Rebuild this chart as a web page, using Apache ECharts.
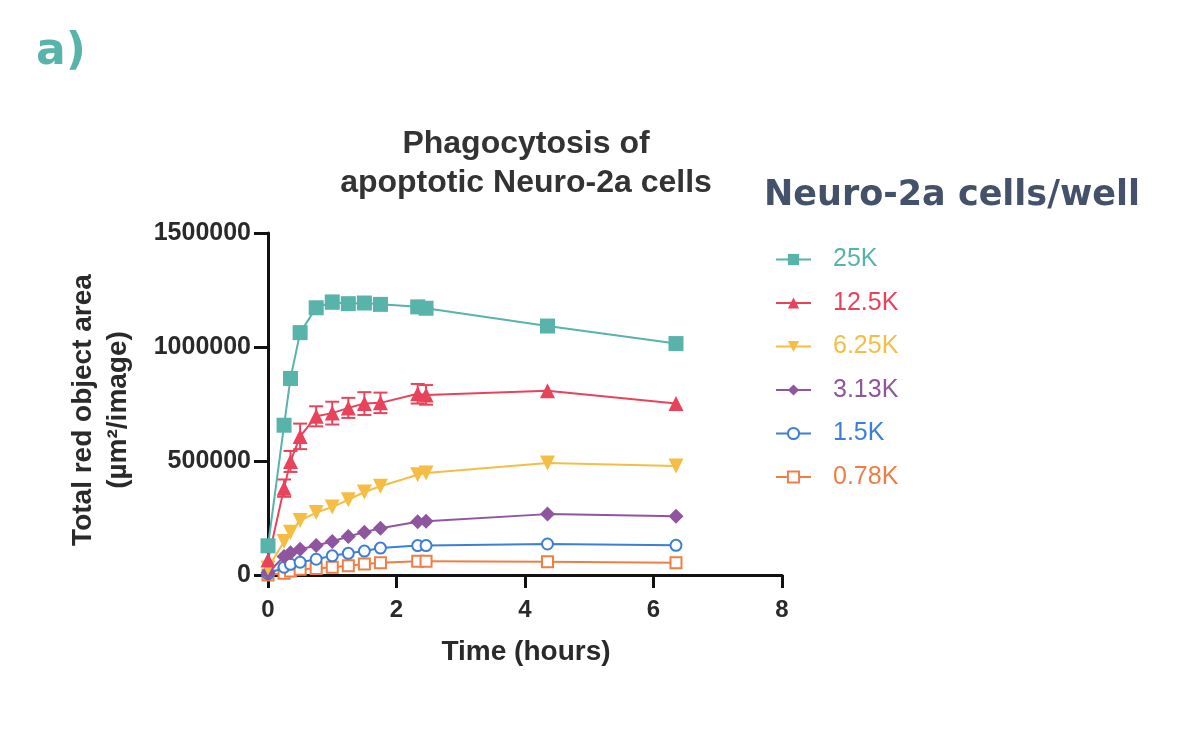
<!DOCTYPE html>
<html>
<head>
<meta charset="utf-8">
<script src="https://cdn.jsdelivr.net/npm/echarts@6/dist/echarts.min.js"></script>
<style>html,body{margin:0;padding:0;background:#fff}#c{width:1200px;height:736px}</style>
</head>
<body>
<div id="c"></div>
<script>
// Time points (hours)
const times = [0, 0.25, 0.35, 0.5, 0.75, 1, 1.25, 1.5, 1.75, 2.33, 2.46, 4.35, 6.35];
const seriesNames = ['25K', '12.5K', '6.25K', '3.13K', '1.5K', '0.78K'];
const k25  = [128000, 657000, 862000, 1063000, 1172000, 1197000, 1190000, 1193000, 1187000, 1176000, 1170000, 1092000, 1015000];
const k12  = [66000, 381000, 498000, 608000, 696000, 710000, 733000, 752000, 755000, 795000, 790000, 808000, 752000];
const k6   = [31000, 147000, 188000, 239000, 274000, 298000, 330000, 364000, 389000, 440000, 447000, 491000, 478000];
const k3   = [10000, 81000, 98000, 113000, 129000, 147000, 169000, 188000, 205000, 234000, 236000, 267000, 258000];
const k15  = [5000, 34000, 47000, 56000, 69000, 84000, 95000, 105000, 118000, 129000, 129000, 136000, 130000];
const k078 = [0, 8000, 18000, 25000, 29000, 34000, 41000, 48000, 54000, 60000, 60000, 58000, 54000];
// Error (SEM) half-widths
const k25err = [0, 0, 0, 0, 15000, 28000, 10000, 10000, 10000, 12000, 10000, 0, 0];
const k12err = [0, 38000, 46000, 56000, 44000, 50000, 44000, 50000, 45000, 43000, 43000, 0, 0];
const yTicks = [0, 500000, 1000000, 1500000];
const xTicks = [0, 2, 4, 6, 8];

const colors = ['#58b3aa', '#e9435b', '#f6bd45', '#8f559f', '#3d7fd6', '#ef7e46'];
const values = [k25, k12, k6, k3, k15, k078];
const symbols = ['rect', 'triangle', 'triangle', 'diamond', 'emptyCircle', 'emptyRect'];
const symRot = [0, 0, 180, 0, 0, 0];
const symSize = [15, 15, 15, 15, 11, 11];

const chart = echarts.init(document.getElementById('c'));
const FONT = '"Liberation Sans", Arial, sans-serif';

const lineSeries = values.map((vals, i) => ({
  name: seriesNames[i],
  type: 'line',
  data: times.map((t, j) => [t, vals[j]]),
  symbol: symbols[i],
  symbolRotate: symRot[i],
  symbolSize: symSize[i],
  showAllSymbol: true,
  z: 10 - i,
  lineStyle: { color: colors[i], width: 2 },
  itemStyle: { color: colors[i], borderColor: colors[i], borderWidth: (symbols[i].indexOf('empty') === 0 ? 2.5 : 0) },
  emphasis: { disabled: true },
  animation: false
}));

function errSeries(vals, errs, color) {
  const data = [];
  times.forEach((t, j) => { if (errs[j] > 0) data.push([t, vals[j] - errs[j], vals[j] + errs[j]]); });
  return {
    type: 'custom',
    data: data,
    encode: { x: 0, y: [1, 2] },
    z: 5,
    silent: true,
    animation: false,
    renderItem: function (params, api) {
      const lo = api.coord([api.value(0), api.value(1)]);
      const hi = api.coord([api.value(0), api.value(2)]);
      const w = 7;
      const st = { stroke: color, lineWidth: 2 };
      return { type: 'group', children: [
        { type: 'line', shape: { x1: lo[0], y1: lo[1], x2: hi[0], y2: hi[1] }, style: st },
        { type: 'line', shape: { x1: lo[0] - w, y1: lo[1], x2: lo[0] + w, y2: lo[1] }, style: st },
        { type: 'line', shape: { x1: hi[0] - w, y1: hi[1], x2: hi[0] + w, y2: hi[1] }, style: st }
      ]};
    }
  };
}

const option = {
  backgroundColor: '#ffffff',
  animation: false,
  title: {
    text: 'Phagocytosis of\napoptotic Neuro-2a cells',
    left: 526, top: 125, textAlign: 'center', padding: 0,
    textStyle: { fontFamily: FONT, fontWeight: 'bold', fontSize: 32, color: '#333333', lineHeight: 39 }
  },
  legend: {
    orient: 'vertical', left: 775, top: 247, padding: 0,
    itemWidth: 35, itemHeight: 14, itemGap: 18.5,
    data: seriesNames.map((n, i) => ({ name: n, textStyle: { color: colors[i] } })),
    textStyle: { fontFamily: FONT, fontSize: 25, padding: [0, 0, 0, 17] },
    selectedMode: false
  },
  grid: { left: 268, right: 418, top: 233, bottom: 161, containLabel: false },
  xAxis: {
    type: 'value', min: 0, max: 8, interval: 2,
    axisLine: { show: true, onZero: false, lineStyle: { color: '#111', width: 3 } },
    axisTick: { show: true, length: 13, lineStyle: { color: '#111', width: 3 } },
    axisLabel: { color: '#2a2a2a', fontFamily: FONT, fontWeight: 'bold', fontSize: 24, margin: 23,
      formatter: v => xTicks.indexOf(v) >= 0 ? String(v) : '' },
    splitLine: { show: false }
  },
  yAxis: {
    type: 'value', min: 0, max: 1500000, interval: 500000,
    axisLine: { show: true, lineStyle: { color: '#111', width: 3 } },
    axisTick: { show: true, length: 14, lineStyle: { color: '#111', width: 3 } },
    axisLabel: { color: '#2a2a2a', fontFamily: FONT, fontWeight: 'bold', fontSize: 25, margin: 17,
      formatter: v => yTicks.indexOf(v) >= 0 ? String(v) : '' },
    splitLine: { show: false }
  },
  graphic: [
    { type: 'text', x: 36, y: 53, style: { text: 'a)', fill: '#58b3aa', font: 'bold 44px "DejaVu Sans", sans-serif', textAlign: 'left', textVerticalAlign: 'middle' } },
    { type: 'text', x: 952, y: 196, style: { text: 'Neuro-2a cells/well', fill: '#44516a', font: 'bold 35px "DejaVu Sans", sans-serif', textAlign: 'center', textVerticalAlign: 'middle' } },
    { type: 'text', x: 526, y: 652, style: { text: 'Time (hours)', fill: '#2a2a2a', font: 'bold 28px ' + FONT, textAlign: 'center', textVerticalAlign: 'middle' } },
    { type: 'text', x: 101, y: 410, rotation: Math.PI / 2, style: { text: 'Total red object area\n(µm²/image)', fill: '#2a2a2a', font: 'bold 28px ' + FONT, textAlign: 'center', textVerticalAlign: 'middle', lineHeight: 35 } }
  ],
  series: lineSeries.concat([errSeries(k25, k25err, colors[0]), errSeries(k12, k12err, colors[1])])
};
chart.setOption(option);
</script>
</body>
</html>
